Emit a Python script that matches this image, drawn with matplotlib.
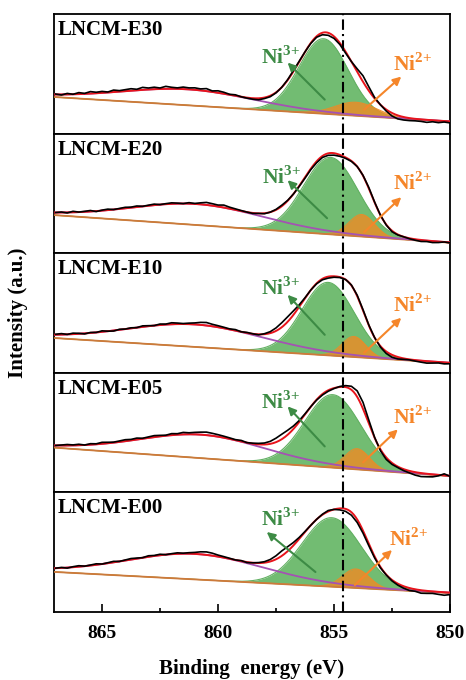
import numpy as np
import matplotlib
import matplotlib.pyplot as plt
from matplotlib.ticker import MultipleLocator

matplotlib.use("Agg")

plt.rcParams["font.family"] = ["Liberation Serif", "DejaVu Serif"]
plt.rcParams["font.weight"] = "bold"
plt.rcParams["mathtext.fontset"] = "custom"
plt.rcParams["mathtext.rm"] = "Liberation Serif:bold"
plt.rcParams["mathtext.bf"] = "Liberation Serif:bold"

# ---- data (intensity in arbitrary units) ----
samples = ["LNCM-E30", "LNCM-E20", "LNCM-E10", "LNCM-E05", "LNCM-E00"]

# linear background: value at 867 eV and at 850 eV
bg_start = [36.5, 38.0, 34.7, 44.7, 40.0]
bg_end = [12.0, 10.5, 9.7, 16.3, 19.0]

# satellite peak (center eV, height, FWHM eV)
sat_center = [861.3, 860.9, 861.0, 860.7, 861.0]
sat_height = [16.0, 21.0, 22.5, 23.5, 25.5]
sat_fwhm = [6.8, 6.8, 7.0, 6.5, 7.0]

# Ni3+ component
ni3_center = [855.45, 855.15, 855.25, 855.05, 855.1]
ni3_height = [75.0, 77.0, 73.0, 73.0, 69.0]
ni3_fwhm = [2.5, 2.75, 2.65, 2.85, 3.0]

# Ni2+ component
ni2_center = [854.05, 853.8, 854.14, 854.0, 854.05]
ni2_height = [13.5, 22.0, 20.5, 20.7, 19.0]
ni2_fwhm = [2.1, 1.3, 1.2, 1.25, 1.35]

# measured spectrum minus fit envelope, 867 -> 850 eV every 0.25 eV
residual = [
    [0.5, -0.5, 1, 0, 1.5, 0.5, 2, 1, 1.5, 0.5, 2, 1, 1.5,
     2, 1, 2.5, 1.5, 2, 1, 2.5, 1.5, 1, 2, 1.5, 2,
     1.5, 2.5, 1, 2, 1.5, 0.5, 1, 0, -0.5, -1, -1.5, -1,
     -1, -0.5, 0, 0.5, 1, 0.5, 0, -0.5,
     -1, -2, -2.5, -2, -1.5, -1.5, 0, 3,
     6, 4, 1, 0, -1.5, -3, -3.5, -3,
     -2.5, -2, -2, -2.5, -1.5, -2, -1, -1.5],
    [0, 0.5, -0.5, 1, 0, 0.5, 1, -0.5, 0.5, 1, 0, 0.5, 1,
     0.5, 1, 0, 0.5, 1, 0, 0.5, 1, 0.5, 0, 1, 0.5,
     1.5, 2.5, 2, 1.5, 2.5, 1.5, 1, 0.5, 0, -0.5, 0, -0.5,
     0, 0.5, 1, 0.5, 0, -0.5, -1, -1,
     -1.5, -1.5, -2, -2, -1.5, -1, -0.5, 0,
     0.5, 1, 0.5, 0, -0.5, -1, -0.5, 0,
     -0.5, -1, -1.5, -1, -1.5, -1, 0, -0.5],
    [0.5, 1, 0, 1, 0.5, -0.5, 0.5, 0, 1, 0, -0.5, 0.5, 0,
     0.5, 0, 1, 0.5, 0, 1, 0.5, 1.5, 1, 0.5, 1, 1.5,
     2.5, 3, 2, 1.5, 1, 0.5, 1, 0, 0.5, 0, -0.5, 0.5,
     1.5, 3, 4.5, 5, 4, 2, 0.5, 0,
     -0.5, -1, -1.5, -1, -0.5, 0, 0.5, 1,
     1, 0.5, 0, -1, -2, -2.5, -2, -1,
     -0.5, -1, -1.5, -2, -1.5, -1, -1.5, -1],
    [0, 0.5, 1, 0.5, 1, 0, 1, 0.5, 1.5, 1, 0.5, 1, 1.5,
     1, 1.5, 0.5, 1, 1.5, 1, 0.5, 1.5, 1, 2, 1.5, 2,
     2.5, 3, 2.5, 2, 1.5, 1, 0.5, 1, 0, 0.5, 1, 1.5,
     2.5, 4, 5, 4.5, 3, 1.5, 0.5, 0,
     -0.5, -1, -1, -0.5, 0.5, 1.5, 3.5, 6,
     6.5, 3.5, 0.5, -1.5, -2, -1.5, -1, -1.5,
     -2, -3, -3.5, -3, -2.5, -1, 1.5, -0.5],
    [0, 0.5, -0.5, 0.5, 1, 0, 0.5, 1, 0, 0.5, 1, 0, 0.5,
     1, 0.5, 0, 1, 0.5, 1, 0, 0.5, 1, 0.5, 1, 1.5,
     2.5, 3, 2.5, 1.5, 1, 0.5, 0, 0.5, -0.5, 0, 0.5, 1,
     2, 3.5, 5, 4.5, 3, 1.5, 0.5, 0,
     0, 0.5, 1, 0, -1.5, -2.5, -3, -3,
     -2.5, -2, -1.5, -1, -0.5, -1, -1.5, -2,
     -2.5, -2, -3, -2.5, -2, -2.5, -3, -2],
]

ref_line = 854.6

# ---- layout of labels/arrows (eV, height) ----
ni3_text = [(857.3, 76), (857.25, 76), (857.3, 84), (857.3, 90), (857.3, 92)]
ni3_tail = [(855.4, 34), (855.3, 35), (855.4, 38), (855.4, 46), (855.8, 40)]
ni3_head = [(857.0, 71), (857.0, 73), (857.0, 78), (857.0, 86), (857.9, 80)]
ni2_text = [(851.6, 69), (851.6, 70), (851.6, 67), (851.6, 75), (851.8, 72)]
ni2_tail = [(853.7, 24), (853.7, 21), (853.7, 20), (853.75, 30), (854.1, 27)]
ni2_head = [(852.1, 57), (852.1, 56), (852.1, 55), (852.25, 63), (852.5, 62)]

GREEN = "#72bc72"
GREEN_EDGE = "#62b062"
GREEN_TXT = "#3d8b45"
ORANGE = "#f08a24"
ORANGE_TXT = "#f5862a"
PURPLE = "#a452b3"
BASE = "#cc7a3c"
RED = "#e8141c"


def pv(x, c, h, w, eta=0.0):
    d = (x - c) ** 2 / w ** 2
    return h * ((1 - eta) * np.exp(-4 * np.log(2) * d) + eta / (1 + 4 * d))


fig, axes = plt.subplots(5, 1, figsize=(4.66, 6.8), dpi=100, sharex=True)
plt.subplots_adjust(left=54 / 466, right=450 / 466, top=1 - 14 / 680,
                    bottom=1 - 612 / 680, hspace=0)

x = np.linspace(867.07, 850, 400)
xe = np.arange(867.0, 849.99, -0.25)

for k, ax in enumerate(axes):
    bg = lambda e: bg_start[k] + (867 - e) / 17 * (bg_end[k] - bg_start[k])

    def parts(e):
        s = pv(e, sat_center[k], sat_height[k], sat_fwhm[k], eta=0.15)
        n3 = pv(e, ni3_center[k], ni3_height[k], ni3_fwhm[k])
        n2 = pv(e, ni2_center[k], ni2_height[k], ni2_fwhm[k])
        return s, n3, n2

    b = bg(x)
    s, n3, n2 = parts(x)
    ax.fill_between(x, b, b + n3, color=GREEN, lw=0, zorder=1)
    ax.plot(x, b + n3, color=GREEN_EDGE, lw=0.8, zorder=1.5)
    ax.fill_between(x, b, b + n2, color=ORANGE, alpha=0.8, lw=0, zorder=2)
    ax.plot(x, b + n2, color=ORANGE, lw=0.8, alpha=0.9, zorder=2.5)
    ax.plot(x, b, color=BASE, lw=1.3, zorder=3)
    ax.plot(x, b + s, color=PURPLE, lw=1.3, zorder=3)
    ax.plot(x, b + s + n3 + n2, color=RED, lw=1.4, zorder=4)

    se, n3e, n2e = parts(xe)
    meas = bg(xe) + se + n3e + n2e + np.array(residual[k])
    ax.plot(xe, meas, color="black", lw=1.2, zorder=5)

    ax.axvline(ref_line, color="black", lw=1.5, ls=(0, (5, 2, 1, 2)), zorder=6)

    ax.text(0.008, 0.95, samples[k], transform=ax.transAxes, ha="left", va="top",
            fontsize=15, fontweight="bold")

    ax.annotate("", xy=ni3_head[k], xytext=ni3_tail[k],
                arrowprops=dict(arrowstyle="-|>", color=GREEN_TXT, lw=1.5,
                                mutation_scale=12, shrinkA=0, shrinkB=0), zorder=7)
    ax.text(*ni3_text[k], r"Ni$^{\mathbf{3{+}}}$", color=GREEN_TXT, fontsize=15.5,
            ha="center", va="center", zorder=8)
    ax.annotate("", xy=ni2_head[k], xytext=ni2_tail[k],
                arrowprops=dict(arrowstyle="-|>", color=ORANGE_TXT, lw=1.5,
                                mutation_scale=12, shrinkA=0, shrinkB=0), zorder=7)
    ax.text(*ni2_text[k], r"Ni$^{\mathbf{2{+}}}$", color=ORANGE_TXT, fontsize=15.5,
            ha="center", va="center", zorder=8)

    ax.set_xlim(867.07, 850)
    ax.set_ylim(0, 119.6)
    ax.set_yticks([])
    for sp in ax.spines.values():
        sp.set_linewidth(1.3)
    if k < 4:
        ax.tick_params(axis="x", which="both", bottom=False, labelbottom=False)

ax = axes[-1]
ax.set_xticks([865, 860, 855, 850])
ax.xaxis.set_minor_locator(MultipleLocator(2.5))
ax.tick_params(axis="x", which="major", direction="in", length=6, width=1.2,
               labelsize=14, pad=9)
ax.tick_params(axis="x", which="minor", direction="in", length=3, width=1.2)

fig.text(252 / 466, 1 - 674 / 680, "Binding  energy (eV)", ha="center",
         va="baseline", fontsize=15, fontweight="bold")
fig.text(18 / 466, 1 - 313 / 680, "Intensity (a.u.)", ha="center", va="center",
         rotation=90, fontsize=15, fontweight="bold")

plt.savefig("out.png", dpi=100)
